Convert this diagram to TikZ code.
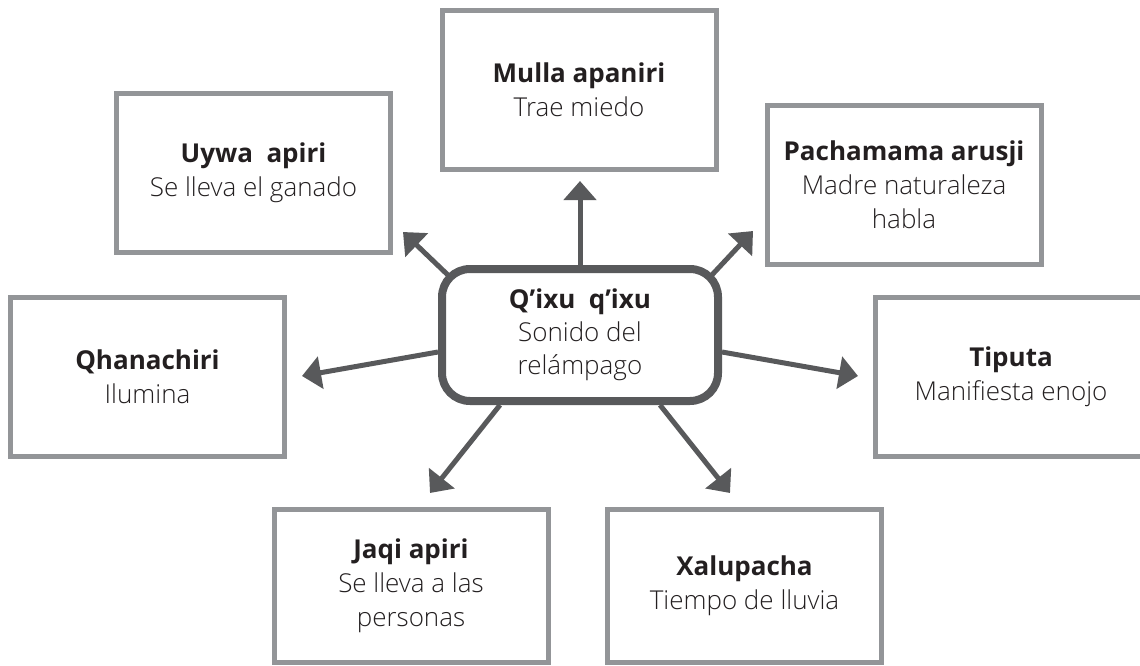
\documentclass[tikz,border=0pt]{standalone}
\usepackage{fontspec}
\setmainfont{Open Sans}[UprightFont={Open Sans Light}, BoldFont={Open Sans Bold}]
\usetikzlibrary{arrows.meta,calc,backgrounds}
\definecolor{boxgray}{HTML}{939598}
\definecolor{dk}{HTML}{58595B}
\definecolor{txt}{HTML}{231F20}
\begin{document}
\begin{tikzpicture}[x=1pt,y=-1pt,
  box/.style={draw=boxgray, line width=5pt, fill=white, inner sep=0pt, align=center,
    text=txt, font=\fontsize{26}{34}\selectfont, minimum width=274pt, minimum height=159pt},
  hub/.style={draw=dk, line width=8pt, rounded corners=28pt, fill=white, inner sep=0pt,
    align=center, text=txt, font=\fontsize{26}{33}\selectfont, minimum width=276pt, minimum height=132pt},
  arr/.style={draw=dk, line width=5pt, -{Triangle[length=19pt,width=32pt]}}]
\useasboundingbox (0,0) rectangle (1140,666);
\clip (0,0) rectangle (1140,666);
\node[box] (mulla) at (579,90) {\textbf{Mulla apaniri}\\Trae miedo};
\node[box] (uywa) at (253.5,173) {\textbf{Uywa~~apiri}\\Se lleva el ganado};
\node[box] (pacha) at (904,185) {\textbf{Pachamama arusji}\\Madre naturaleza\\habla};
\node[box] (qhana) at (147.5,376.5) {\textbf{Qhanachiri}\\Ilumina};
\node[box, minimum width=271pt] (tiputa) at (1011,376.5) {\textbf{Tiputa}\\Manifiesta enojo};
\node[box, minimum height=153pt] (jaqi) at (411,586) {\textbf{Jaqi apiri}\\Se lleva a las\\personas};
\node[box, minimum height=153pt] (xalu) at (744.5,586) {\textbf{Xalupacha}\\Tiempo de lluvia};
\node[hub] (hub) at (580,335) {\textbf{Q’ixu~~q’ixu}\\Sonido del\\relámpago};
\coordinate (tU) at (580,181);
\coordinate (tUL) at (403,232);
\coordinate (tUR) at (753,231);
\coordinate (tL) at (302,376);
\coordinate (tR) at (858,376);
\coordinate (tDL) at (430,493);
\coordinate (tDR) at (730,493);
\begin{scope}[on background layer]
\draw[arr] (hub.north) -- (tU);
\draw[arr] ($(hub.north west)+(12,12)$) -- (tUL);
\draw[arr] ($(hub.north east)+(-12,12)$) -- (tUR);
\draw[arr] ($(hub.west)+(0,17)$) -- (tL);
\draw[arr] ($(hub.east)+(0,17)$) -- (tR);
\draw[arr] ($(hub.south)+(-80,0)$) -- (tDL);
\draw[arr] ($(hub.south)+(80,0)$) -- (tDR);
\end{scope}
\end{tikzpicture}
\end{document}
